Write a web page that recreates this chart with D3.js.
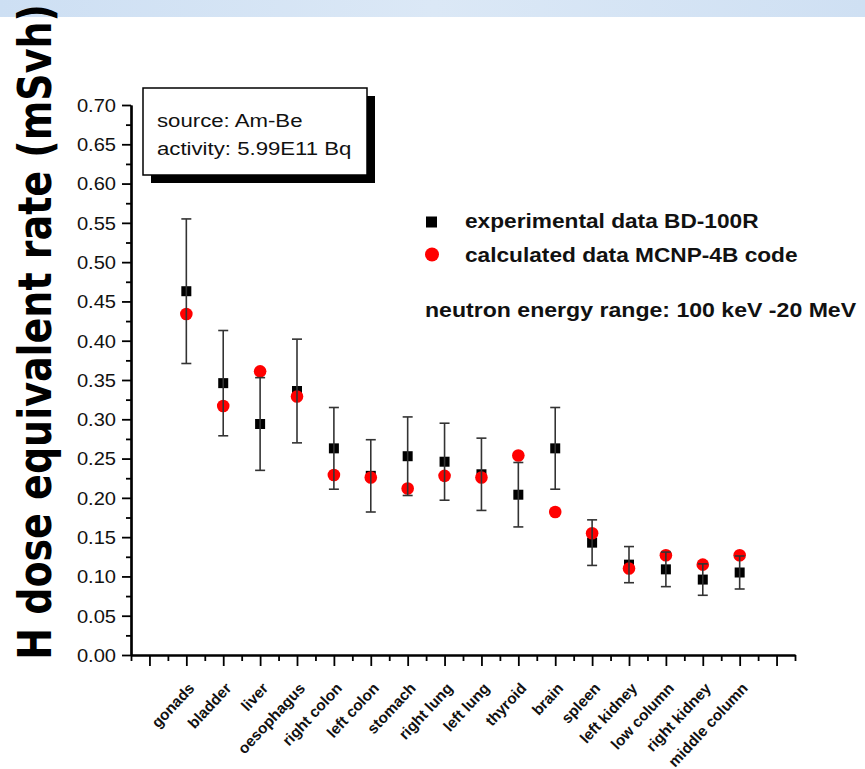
<!DOCTYPE html>
<html>
<head>
<meta charset="utf-8">
<script src="https://cdn.jsdelivr.net/npm/d3@7"></script>
<style>
  html, body { margin: 0; padding: 0; background: #fff; }
  svg { display: block; }
  text { font-family: "Liberation Sans", Arial, sans-serif; }
</style>
</head>
<body>
<svg id="chart" width="865" height="769"></svg>
<script>
// ---------- data ----------
const categories = ["gonads", "bladder", "liver", "oesophagus", "right colon", "left colon",
  "stomach", "right lung", "left lung", "thyroid", "brain", "spleen", "left kidney",
  "low column", "right kidney", "middle column"];
const expValues  = [0.463, 0.346, 0.294, 0.336, 0.263, 0.228, 0.253, 0.246, 0.230, 0.204,
  0.263, 0.143, 0.115, 0.109, 0.096, 0.105];
const expErrors  = [0.092, 0.067, 0.059, 0.066, 0.052, 0.046, 0.050, 0.049, 0.046, 0.041,
  0.052, 0.029, 0.023, 0.022, 0.020, 0.021];
const calcValues = [0.434, 0.317, 0.361, 0.329, 0.229, 0.226, 0.212, 0.228, 0.226, 0.254,
  0.182, 0.155, 0.110, 0.127, 0.115, 0.127];
const yTickValues = [0.00, 0.05, 0.10, 0.15, 0.20, 0.25, 0.30, 0.35, 0.40, 0.45, 0.50, 0.55, 0.60, 0.65, 0.70];
const yLabel = "H dose equivalent rate (mSvh)";
const legendLabels = ["experimental data BD-100R", "calculated data MCNP-4B code"];
const noteLines = ["source: Am-Be", "activity: 5.99E11 Bq"];
const rangeNote = "neutron energy range: 100 keV -20 MeV";

// ---------- layout ----------
const svg = d3.select("#chart");
const x = d3.scaleLinear().domain([-0.5, 17.5]).range([131, 795]);
const y = d3.scaleLinear().domain([0, 0.70]).range([655, 105]);

// background band at top
const defs = svg.append("defs");
const grad = defs.append("linearGradient").attr("id", "band").attr("x1", 0).attr("x2", 1);
grad.append("stop").attr("offset", "0%").attr("stop-color", "#cddff3");
grad.append("stop").attr("offset", "50%").attr("stop-color", "#dbe8f6");
grad.append("stop").attr("offset", "100%").attr("stop-color", "#cfe0f3");
svg.append("rect").attr("x", 0).attr("y", 0).attr("width", 865).attr("height", 17).attr("fill", "url(#band)");

function place(sel, px, py, sx, rot) {
  sel.attr("transform", `translate(${px},${py}) scale(${sx},1)` + (rot ? ` rotate(${rot})` : ""));
  return sel;
}

// ---------- y axis ----------
const yMinor = d3.range(0, 14).map(i => yTickValues[i] + 0.025);
const yMinorAxis = svg.append("g").attr("transform", `translate(${x(-0.5)},0)`)
  .call(d3.axisLeft(y).tickValues(yMinor).tickSize(5).tickSizeOuter(0).tickFormat(""));
const yAxis = svg.append("g").attr("transform", `translate(${x(-0.5)},0)`)
  .call(d3.axisLeft(y).tickValues(yTickValues).tickSize(9).tickSizeOuter(0).tickFormat(d3.format(".2f")));
yAxis.selectAll("text")
  .attr("font-size", 17.5).attr("fill", "#111")
  .attr("x", -13).attr("dy", "0.36em")
  .attr("transform", "scale(1.15,1)");

// ---------- x axis ----------
const xMajor = d3.range(0, 18);
const xMinor = d3.range(0, 19).map(i => i - 0.5);
const xMinorAxis = svg.append("g").attr("transform", `translate(0,${y(0)})`)
  .call(d3.axisBottom(x).tickValues(xMinor).tickSize(6).tickSizeOuter(0).tickFormat(""));
const xAxis = svg.append("g").attr("transform", `translate(0,${y(0)})`)
  .call(d3.axisBottom(x).tickValues(xMajor).tickSize(11).tickSizeOuter(0).tickFormat(""));

[yMinorAxis, yAxis, xMinorAxis, xAxis].forEach(g => {
  g.selectAll("path.domain").attr("stroke", "#000").attr("stroke-width", 2.2);
  g.selectAll(".tick line").attr("stroke", "#000").attr("stroke-width", 1.8);
});

// category labels
svg.append("g").selectAll("text").data(categories).join("text")
  .attr("text-anchor", "end")
  .attr("font-size", 15.3).attr("font-weight", "bold").attr("fill", "#111")
  .attr("transform", (d, i) => `translate(${x(i + 1) + 9},${y(0) + 34}) rotate(-47)`)
  .text(d => d);

// ---------- y label ----------
place(svg.append("text"), 51, 332, 1.2, -90)
  .attr("text-anchor", "middle")
  .attr("font-weight", "bold").attr("font-size", 38).attr("fill", "#000")
  .style("font-family", "'DejaVu Sans', Verdana, sans-serif")
  .text(yLabel);

// ---------- data marks ----------
const marks = svg.append("g");
marks.selectAll("rect.exp").data(expValues).join("rect")
  .attr("class", "exp")
  .attr("x", (d, i) => x(i + 1) - 5).attr("y", d => y(d) - 5)
  .attr("width", 10).attr("height", 10).attr("fill", "#000");
marks.selectAll("circle.calc").data(calcValues).join("circle")
  .attr("class", "calc")
  .attr("cx", (d, i) => x(i + 1)).attr("cy", d => y(d))
  .attr("r", 6.3).attr("fill", "#f00");

const err = svg.append("g").attr("stroke", "#333").attr("stroke-width", 1.6);
expValues.forEach((v, i) => {
  const cx = x(i + 1), top = y(v + expErrors[i]), bot = y(v - expErrors[i]);
  err.append("line").attr("x1", cx).attr("x2", cx).attr("y1", top).attr("y2", bot);
  err.append("line").attr("x1", cx - 5).attr("x2", cx + 5).attr("y1", top).attr("y2", top);
  err.append("line").attr("x1", cx - 5).attr("x2", cx + 5).attr("y1", bot).attr("y2", bot);
});

// ---------- note box ----------
svg.append("rect").attr("x", 151).attr("y", 96).attr("width", 224).attr("height", 87).attr("fill", "#000");
svg.append("rect").attr("x", 143).attr("y", 88).attr("width", 224).attr("height", 87)
  .attr("fill", "#fff").attr("stroke", "#000").attr("stroke-width", 1.5);
noteLines.forEach((t, i) => {
  place(svg.append("text"), 157, 127 + i * 28, 1.2)
    .attr("font-size", 18.5).attr("fill", "#111").text(t);
});

// ---------- legend ----------
svg.append("rect").attr("x", 426).attr("y", 216.5).attr("width", 11).attr("height", 11).attr("fill", "#000");
svg.append("circle").attr("cx", 432).attr("cy", 254.5).attr("r", 7).attr("fill", "#f00");
legendLabels.forEach((t, i) => {
  place(svg.append("text"), 465, 228 + i * 34, 1.08)
    .attr("font-size", 21).attr("font-weight", "bold").attr("fill", "#111").text(t);
});
place(svg.append("text"), 425, 317, 1.1)
  .attr("font-size", 21).attr("font-weight", "bold").attr("fill", "#111").text(rangeNote);
</script>
</body>
</html>
